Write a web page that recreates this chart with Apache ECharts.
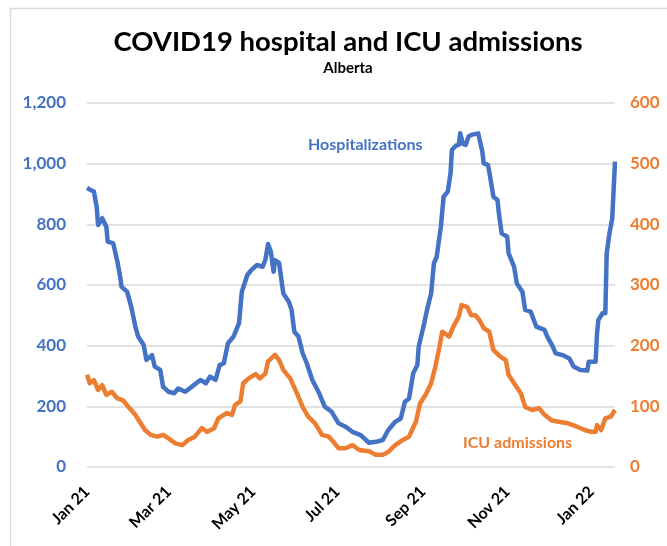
<!DOCTYPE html>
<html>
<head>
<meta charset="utf-8">
<script src="https://cdn.jsdelivr.net/npm/echarts@6/dist/echarts.min.js"></script>
<style>
  html, body { margin: 0; padding: 0; background: #fff; }
  #chart { width: 667px; height: 546px; }
</style>
</head>
<body>
<div id="chart"></div>
<script>
// days counted from Jan 1 2021
const hospDays = [0,2,5,7,8,11,14,15,19,22,24,25,29,32,35,37,41,43,47,49,53,55,59,63,66,71,76,82,86,89,93,96,99,102,106,110,112,116,119,123,127,129,131,133,135,136,139,142,146,148,150,153,156,159,163,168,172,177,182,187,192,198,204,209,214,218,223,227,230,233,236,239,240,244,246,249,251,253,256,258,261,263,264,267,269,270,272,274,276,278,283,285,286,287,290,291,294,297,298,300,304,305,309,311,315,317,321,325,331,333,337,339,344,349,352,357,362,363,368,369,370,373,375,376,378,380,381,382];
const hospValues = [920,915,908,858,798,820,792,743,737,677,627,594,578,528,463,430,402,353,369,331,320,265,248,243,259,248,265,287,276,298,287,336,342,408,430,474,578,633,650,666,660,682,735,710,644,682,672,573,545,518,446,430,375,342,287,243,199,182,144,133,116,105,80,83,89,122,149,160,215,226,309,336,397,474,518,573,672,693,792,891,908,968,1045,1060,1062,1100,1065,1062,1089,1095,1100,1060,1040,1001,996,975,891,880,836,770,759,705,660,605,578,518,512,463,452,430,397,375,369,358,331,320,318,347,347,441,485,507,507,705,770,820,825,1007];

const icuDays = [0,2,5,8,11,14,18,22,26,30,35,38,42,46,51,55,59,64,69,73,78,83,87,92,95,101,105,107,111,113,117,122,125,129,131,136,139,142,147,152,156,160,165,170,175,178,182,187,192,197,204,209,214,218,223,228,233,238,241,245,249,252,255,257,262,265,269,271,275,278,281,284,287,291,294,299,303,305,309,314,317,322,327,331,336,340,348,355,360,365,368,369,372,375,379,382];
const icuValues = [152,138,143,127,135,119,124,113,110,99,86,75,61,53,50,53,47,39,36,44,50,64,58,64,80,89,86,102,108,138,146,153,146,154,174,185,176,160,146,121,99,83,72,53,50,42,31,31,36,28,26,20,20,25,36,44,50,75,105,119,138,165,198,223,215,231,248,267,264,250,250,242,229,223,193,182,176,152,138,121,99,94,97,86,77,75,72,66,61,58,58,69,61,80,83,94];

const tickDays = [0, 59, 120, 181, 243, 304, 365];
const tickLabels = ['Jan 21', 'Mar 21', 'May 21', 'Jul 21', 'Sep 21', 'Nov 21', 'Jan 22'];

const blue = '#4472C4';
const orange = '#ED7D31';
const font = 'Lato, "Open Sans", sans-serif';

const chart = echarts.init(document.getElementById('chart'));

chart.setOption({
  animation: false,
  title: {
    text: 'COVID19 hospital and ICU admissions',
    subtext: 'Alberta',
    left: 343,
    textAlign: 'center',
    top: 23,
    itemGap: 5,
    textStyle: { fontFamily: font, fontSize: 27.5, fontWeight: 'bold', color: '#000' },
    subtextStyle: { fontFamily: font, fontSize: 15, fontWeight: 'bold', color: '#000' }
  },
  graphic: [
    {
      type: 'rect',
      shape: { x: 10.5, y: 8.5, width: 700, height: 600 },
      style: { fill: 'none', stroke: '#d9d9d9', lineWidth: 1.5 },
      silent: true
    },
    {
      type: 'text',
      left: 308,
      top: 137,
      style: { text: 'Hospitalizations', fill: blue, font: 'bold 16px ' + font }
    },
    {
      type: 'text',
      left: 463,
      top: 435,
      style: { text: 'ICU admissions', fill: orange, font: 'bold 16px ' + font }
    }
  ],
  grid: { left: 87, right: 52, top: 103, bottom: 79 },
  xAxis: {
    type: 'value',
    min: 0,
    max: 382,
    axisLine: { show: false },
    axisTick: { show: false },
    splitLine: { show: false },
    axisLabel: {
      customValues: tickDays,
      rotate: 45,
      margin: 22,
      color: '#000',
      fontFamily: font,
      fontSize: 16,
      fontWeight: 'bold',
      formatter: function (v) {
        return tickLabels[tickDays.indexOf(v)] || '';
      }
    }
  },
  yAxis: [
    {
      type: 'value',
      min: 0,
      max: 1200,
      interval: 200,
      axisLine: { show: false },
      axisTick: { show: false },
      splitLine: { lineStyle: { color: '#d9d9d9', width: 1.5 } },
      axisLabel: {
        margin: 21,
        color: blue,
        fontFamily: font,
        fontSize: 17,
        fontWeight: 'bold',
        formatter: function (v) { return v.toLocaleString('en-US'); }
      }
    },
    {
      type: 'value',
      min: 0,
      max: 600,
      interval: 100,
      axisLine: { show: false },
      axisTick: { show: false },
      splitLine: { show: false },
      axisLabel: {
        margin: 15,
        color: orange,
        fontFamily: font,
        fontSize: 17,
        fontWeight: 'bold'
      }
    }
  ],
  series: [
    {
      name: 'Hospitalizations',
      type: 'line',
      yAxisIndex: 0,
      showSymbol: false,
      data: hospDays.map((d, i) => [d, hospValues[i]]),
      lineStyle: { color: blue, width: 4.5, join: 'round' }
    },
    {
      name: 'ICU admissions',
      type: 'line',
      yAxisIndex: 1,
      showSymbol: false,
      data: icuDays.map((d, i) => [d, icuValues[i]]),
      lineStyle: { color: orange, width: 4.5, join: 'round' }
    }
  ]
});
</script>
</body>
</html>
